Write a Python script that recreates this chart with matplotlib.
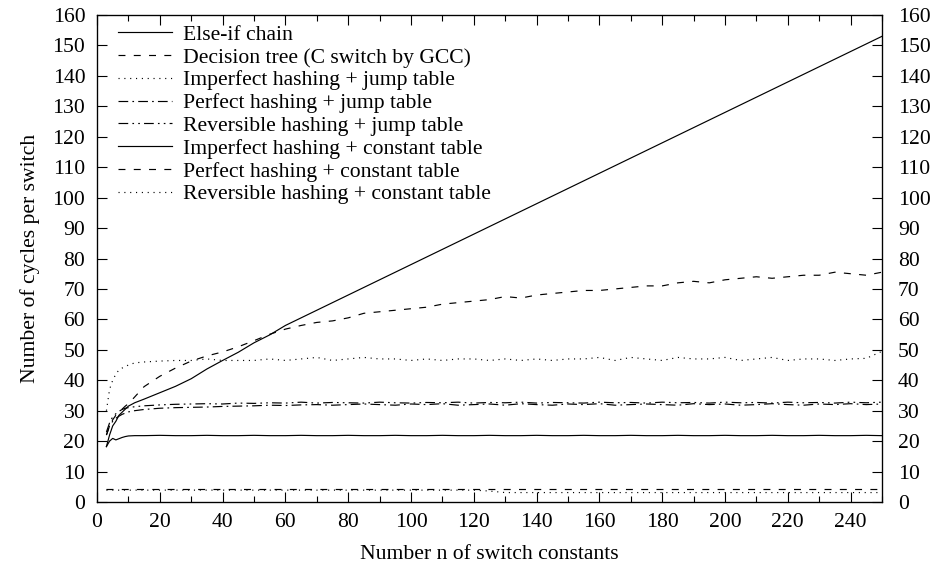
import matplotlib
matplotlib.use("Agg")
import matplotlib.pyplot as plt
from matplotlib.ticker import MultipleLocator

plt.rcParams['font.family'] = ['Liberation Serif', 'DejaVu Serif']
plt.rcParams['lines.scale_dashes'] = False

# x positions (number n of switch constants)
n = [3, 4, 5, 6, 7, 8, 9, 10, 12, 15, 20, 25, 30, 35, 40, 45, 50, 55, 60,
     65, 70, 75, 80, 85, 90, 95, 100, 105, 110, 115, 120, 125, 130, 135, 140,
     145, 150, 155, 160, 165, 170, 175, 180, 185, 190, 195, 200, 205, 210,
     215, 220, 225, 230, 235, 240, 245, 250]

else_if = [18.2, 22, 25, 26.5, 28.5, 29.5, 30.5, 31.5, 32.6, 33.8, 35.9, 38, 40.5, 43.7, 46.5, 49.2, 52.3, 54.9, 58,
           60.5, 63, 65.5, 68, 70.5, 73, 75.5, 78, 80.5, 83, 85.5, 88, 90.5, 93, 95.5, 98,
           100.5, 103, 105.5, 108, 110.5, 113, 115.5, 118, 120.5, 123, 125.5, 128, 130.5, 133,
           135.5, 138, 140.5, 143, 145.5, 148, 150.5, 153]

decision_tree = [22, 25, 27, 28.5, 29.5, 30.5, 31.5, 32.3, 34.5, 37.9, 41.3, 44, 46.3, 48, 49.3, 51, 53, 55.1, 56.8,
                 58, 59, 59.5, 60.5, 62, 62.5, 63, 63.5, 64, 65, 65.5, 66, 66.5, 67.5, 67, 68,
                 68.5, 69, 69.5, 69.5, 70, 70.5, 71, 71, 72, 72.5, 72, 73, 73.5, 74,
                 73.5, 74, 74.5, 74.5, 75.5, 75, 74.5, 75.5]

imperfect_jump = [30, 37, 40, 42, 43.4, 44, 44.5, 45, 45.7, 46, 46.3, 46.5, 46.5, 47, 46.5, 46.5, 46.5, 47, 46.5,
                  47, 47.5, 46.5, 47, 47.5, 47, 47, 46.5, 47, 46.5, 47, 47, 46.5, 47, 46.5, 47,
                  46.5, 47, 47, 47.5, 46.5, 47.5, 47, 46.5, 47.5, 47, 47, 47.5, 46.5, 47,
                  47.5, 46.5, 47, 47, 46.5, 47, 47.2, 49.5]

perfect_jump = [22, 25, 26.5, 27.5, 28.2, 28.8, 29.2, 29.6, 30, 30.4, 30.8, 31, 31.1, 31.2, 31.4, 31.5, 31.6, 31.8, 31.7,
                31.9, 32, 31.8, 32, 32.2, 32, 31.8, 32.2, 32, 32.3, 31.8, 32, 32.2, 31.8, 32.3, 32,
                31.8, 32.2, 32, 32.3, 31.8, 32, 32.2, 32, 31.8, 32.3, 32, 32.2, 31.8, 32,
                32.3, 32, 31.8, 32.2, 32, 32.3, 32, 32.2]

reversible_jump = [23, 26, 28, 29, 29.8, 30.4, 30.8, 31, 31.3, 31.6, 31.9, 32.1, 32.2, 32.3, 32.2, 32.5, 32.4, 32.6, 32.5,
                   32.8, 32.5, 32.7, 32.6, 32.5, 32.8, 32.6, 32.5, 32.7, 32.6, 32.8, 32.5, 32.7, 32.6, 32.8, 32.5,
                   32.7, 32.6, 32.5, 32.8, 32.6, 32.7, 32.5, 32.8, 32.6, 32.7, 32.5, 32.8, 32.6, 32.7,
                   32.5, 32.8, 32.6, 32.7, 32.5, 32.8, 32.6, 32.8]

imperfect_const = [18.2, 20, 20.9, 20.4, 20.8, 21.2, 21.5, 21.7, 21.8, 21.8, 21.9, 21.8, 21.8, 21.9, 21.8, 21.8, 21.9, 21.8, 21.8,
                   21.9, 21.8, 21.8, 21.9, 21.8, 21.8, 21.9, 21.8, 21.8, 21.9, 21.8, 21.8, 21.9, 21.8, 21.8, 21.9,
                   21.8, 21.8, 21.9, 21.8, 21.8, 21.9, 21.8, 21.8, 21.9, 21.8, 21.8, 21.9, 21.8, 21.8,
                   21.9, 21.8, 21.8, 21.9, 21.8, 21.8, 21.9, 21.8]

perfect_const = [4.2, 4.2, 4.2, 4.2, 4.2, 4.2, 4.2, 4.2, 4.2, 4.2, 4.2, 4.2, 4.2, 4.2, 4.2, 4.2, 4.2, 4.2, 4.2,
                 4.2, 4.2, 4.2, 4.2, 4.2, 4.2, 4.2, 4.2, 4.2, 4.2, 4.2, 4.2, 4.2, 4.2, 4.2, 4.2,
                 4.2, 4.2, 4.2, 4.2, 4.2, 4.2, 4.2, 4.2, 4.2, 4.2, 4.2, 4.2, 4.2, 4.2,
                 4.2, 4.2, 4.2, 4.2, 4.2, 4.2, 4.2, 4.2]

reversible_const = [3.9, 3.9, 3.9, 3.9, 3.9, 3.9, 3.9, 3.9, 3.9, 3.9, 3.9, 3.9, 3.9, 3.9, 3.9, 3.9, 3.9, 3.9, 3.9,
                    3.9, 3.9, 3.9, 3.9, 3.9, 3.9, 3.9, 3.9, 3.9, 3.9, 3.9, 3.9, 3.6, 3.1, 3.1, 3.1,
                    3.1, 3.1, 3.1, 3.1, 3.1, 3.1, 3.1, 3.1, 3.1, 3.1, 3.1, 3.1, 3.1, 3.1,
                    3.1, 3.1, 3.1, 3.1, 3.1, 3.1, 3.1, 3.1]

labels = ["Else-if chain",
          "Decision tree (C switch by GCC)",
          "Imperfect hashing + jump table",
          "Perfect hashing + jump table",
          "Reversible hashing + jump table",
          "Imperfect hashing + constant table",
          "Perfect hashing + constant table",
          "Reversible hashing + constant table"]

series = [else_if, decision_tree, imperfect_jump, perfect_jump, reversible_jump,
          imperfect_const, perfect_const, reversible_const]

styles = ['-', (0, (5, 6)), (0, (0.8, 3.4)), (0, (7, 3, 1.2, 3)),
          (0, (7, 3, 1.2, 3, 1.2, 3)), '-', (0, (5, 6)), (0, (0.8, 3.4))]

FS = 15.6
fig = plt.figure(figsize=(9.35, 5.73), dpi=100)
ax = fig.add_axes([97 / 935, 1 - 502 / 573, (882 - 97) / 935, (502 - 15) / 573])

for ys, lab, ls in zip(series, labels, styles):
    ax.plot(n, ys, color='black', linewidth=0.85, linestyle=ls, label=lab)

ax.set_xlim(0, 250)
ax.set_ylim(0, 160)
ax.xaxis.set_major_locator(MultipleLocator(20))
ax.xaxis.set_minor_locator(MultipleLocator(10))
ax.yaxis.set_major_locator(MultipleLocator(10))
ax.tick_params(axis='both', which='major', direction='in', length=7, width=0.8,
               labelsize=FS, top=True, right=False)
ax.tick_params(axis='x', which='major', pad=8)
ax.tick_params(axis='y', which='major', pad=8.5)
ax.tick_params(axis='x', which='minor', direction='in', length=4, width=0.8, top=True)
ax.tick_params(axis='y', which='minor', left=False, right=False)
for sp in ax.spines.values():
    sp.set_linewidth(0.9)

ax2 = ax.twinx()
ax2.set_ylim(0, 160)
ax2.yaxis.set_major_locator(MultipleLocator(10))
ax2.tick_params(axis='y', direction='in', length=7, width=0.8, labelsize=FS, pad=11.5)
ax2.tick_params(axis='y', which='minor', right=False)

ax.set_xlabel("Number n of switch constants", fontsize=FS, labelpad=9)
ax.set_ylabel("Number of cycles per switch", fontsize=FS, labelpad=9)

leg = ax.legend(loc='upper left', bbox_to_anchor=(0.0143, 1.0), frameon=False, fontsize=FS,
                handlelength=2.5, handletextpad=0.5, labelspacing=0.12,
                borderaxespad=0.0, borderpad=0.45)

fig.savefig("out.png", dpi=100)
